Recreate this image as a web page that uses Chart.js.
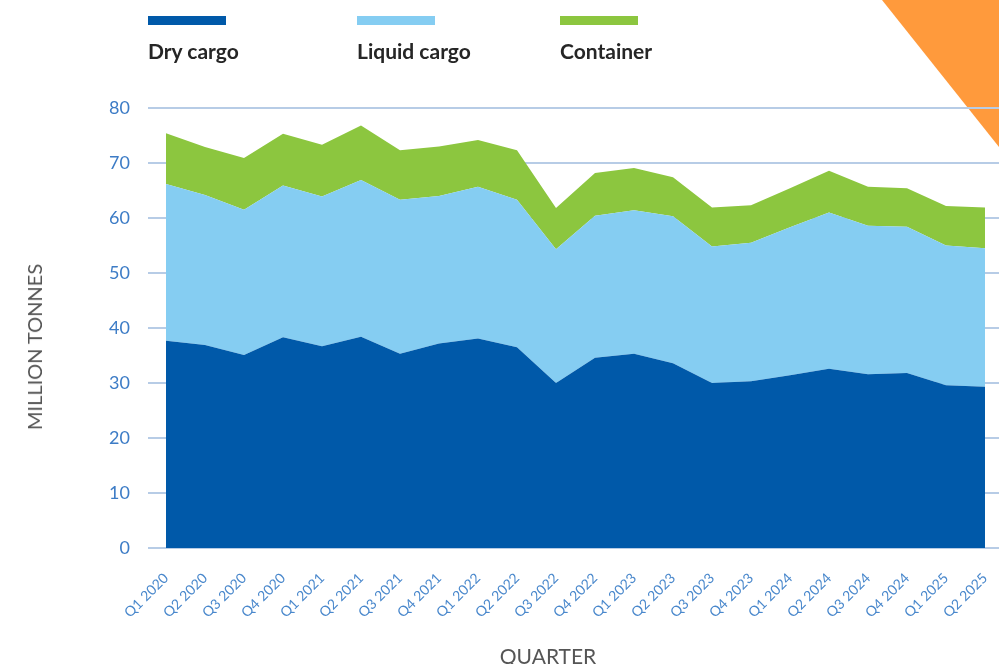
<!DOCTYPE html>
<html>
<head>
<meta charset="utf-8">
<script src="https://cdn.jsdelivr.net/npm/chart.js@4/dist/chart.umd.min.js"></script>
<style>
    html, body { margin: 0; padding: 0; background: #fff; }
    #wrap { position: relative; width: 999px; height: 664px; overflow: hidden; }
    #corner {
        position: absolute; left: 0; top: 0; width: 999px; height: 664px;
        background: #ff9a3c;
        clip-path: polygon(882px 0, 999px 0, 999px 147px);
    }
    #chart { position: absolute; left: 0; top: 0; }
    .key { position: absolute; top: 16px; font-family: Lato, sans-serif; font-weight: bold; font-size: 21px; color: #262626; }
    .key span { display: block; width: 78px; height: 9px; margin-bottom: 13px; }
    .axis-title { position: absolute; font-family: Lato, sans-serif; color: #555; white-space: nowrap; line-height: 1; }
    #xtitle { left: 548px; top: 645px; font-size: 21px; transform: translateX(-50%); }
    #ytitle { left: 34px; top: 347px; font-size: 20px; transform: translate(-50%, -50%) rotate(-90deg); }
</style>
</head>
<body>
<div id="wrap">
    <div id="corner"></div>
    <canvas id="chart" width="999" height="664"></canvas>
    <div id="legend"></div>
    <div class="axis-title" id="xtitle">QUARTER</div>
    <div class="axis-title" id="ytitle">MILLION TONNES</div>
</div>
<script>
const quarters = ['Q1 2020', 'Q2 2020', 'Q3 2020', 'Q4 2020', 'Q1 2021', 'Q2 2021', 'Q3 2021', 'Q4 2021',
    'Q1 2022', 'Q2 2022', 'Q3 2022', 'Q4 2022', 'Q1 2023', 'Q2 2023', 'Q3 2023', 'Q4 2023',
    'Q1 2024', 'Q2 2024', 'Q3 2024', 'Q4 2024', 'Q1 2025', 'Q2 2025'];
const dryCargo = [37.7, 36.9, 35.1, 38.3, 36.7, 38.4, 35.3, 37.2, 38.1, 36.5, 30.0,
    34.6, 35.3, 33.6, 30.0, 30.3, 31.4, 32.6, 31.6, 31.8, 29.6, 29.3];
const liquidCargo = [28.5, 27.3, 26.4, 27.6, 27.2, 28.5, 28.0, 26.8, 27.6, 26.8, 24.3,
    25.8, 26.1, 26.7, 24.8, 25.2, 26.9, 28.4, 27.0, 26.6, 25.4, 25.2];
const container = [9.2, 8.7, 9.4, 9.4, 9.4, 9.9, 9.0, 9.0, 8.5, 9.0, 7.5,
    7.8, 7.7, 7.1, 7.1, 6.8, 7.1, 7.6, 7.1, 7.0, 7.2, 7.4];
const seriesNames = ['Dry cargo', 'Liquid cargo', 'Container'];
const seriesColors = ['#0059a9', '#85cdf2', '#8cc63f'];
const legendLeft = [148, 357, 560];

// legend: colour bar above the name
document.getElementById('legend').innerHTML = seriesNames.map((name, i) =>
    `<div class="key" style="left:${legendLeft[i]}px"><span style="background:${seriesColors[i]}"></span>${name}</div>`
).join('');

const toPoints = arr => arr.map((v, i) => ({ x: i, y: v }));

const ctx = document.getElementById('chart').getContext('2d');
new Chart(ctx, {
    type: 'line',
    data: {
        datasets: [dryCargo, liquidCargo, container].map((arr, i) => ({
            label: seriesNames[i],
            data: toPoints(arr),
            backgroundColor: seriesColors[i],
            borderWidth: 0,
            pointRadius: 0,
            tension: 0,
            fill: i === 0 ? 'origin' : '-1'
        }))
    },
    options: {
        responsive: false,
        animation: false,
        layout: { padding: { top: 108, right: 0, left: 0, bottom: 0 } },
        plugins: {
            legend: { display: false },
            tooltip: { enabled: false }
        },
        scales: {
            x: {
                type: 'linear',
                min: -18 / 39,
                max: 21 + 14 / 39,
                grid: { display: false },
                border: { display: false },
                ticks: {
                    stepSize: 1,
                    includeBounds: false,
                    autoSkip: false,
                    minRotation: 45,
                    maxRotation: 45,
                    padding: 14,
                    color: '#4a88cc',
                    font: { family: 'Lato', size: 14 },
                    callback: v => Number.isInteger(v) ? quarters[v] : ''
                },
                afterFit: scale => {
                    scale.height = 116;
                    scale.paddingLeft = 0;
                    scale.paddingRight = 0;
                }
            },
            y: {
                stacked: true,
                min: 0,
                max: 80,
                grid: { color: '#b7cce6', lineWidth: 2, drawTicks: false },
                border: { display: false },
                ticks: {
                    stepSize: 10,
                    padding: 18,
                    color: '#3d7cc6',
                    font: { family: 'Lato', size: 18 }
                },
                afterFit: scale => { scale.width = 148; }
            }
        }
    }
});
</script>
</body>
</html>
